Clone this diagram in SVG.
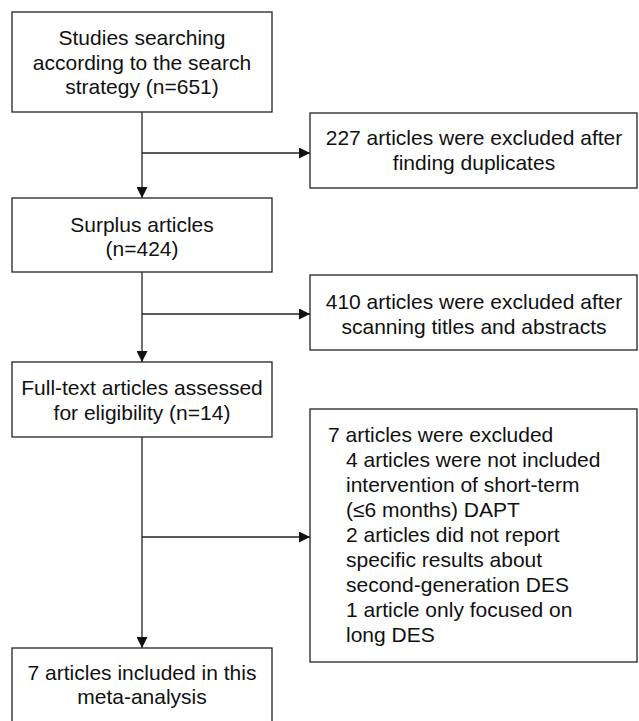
<svg xmlns="http://www.w3.org/2000/svg" width="639" height="721" viewBox="0 0 639 721">
<style>
.box{fill:#fff;stroke:#222;stroke-width:1.3}
.t{font-family:"Liberation Sans",Arial,sans-serif;font-size:21px;fill:#111}
.c{text-anchor:middle}
.ln{stroke:#222;stroke-width:1.3;fill:none}
</style>
<defs>
<marker id="ah" markerWidth="11" markerHeight="11" refX="11" refY="5.5" orient="auto" markerUnits="userSpaceOnUse">
<path d="M0,0 L11,5.5 L0,11 Z" fill="#111"/>
</marker>
</defs>
<rect width="639" height="721" fill="#fff"/>
<g id="connectors">
<line class="ln" x1="142" y1="112" x2="142" y2="198" marker-end="url(#ah)"/>
<line class="ln" x1="142" y1="153" x2="310" y2="153" marker-end="url(#ah)"/>
<line class="ln" x1="142" y1="272" x2="142" y2="362" marker-end="url(#ah)"/>
<line class="ln" x1="142" y1="314" x2="310" y2="314" marker-end="url(#ah)"/>
<line class="ln" x1="142" y1="437" x2="142" y2="648" marker-end="url(#ah)"/>
<line class="ln" x1="142" y1="537" x2="310" y2="537" marker-end="url(#ah)"/>
</g>
<g id="n1">
<rect class="box" x="12" y="12" width="260" height="100"/>
<text class="t c" x="142" y="45">Studies searching</text>
<text class="t c" x="142" y="70">according to the search</text>
<text class="t c" x="142" y="94">strategy (n=651)</text>
</g>
<g id="n2">
<rect class="box" x="310" y="113" width="327" height="75"/>
<text class="t c" x="474" y="145">227 articles were excluded after</text>
<text class="t c" x="474" y="170">finding duplicates</text>
</g>
<g id="n3">
<rect class="box" x="12" y="198" width="260" height="74"/>
<text class="t c" x="142" y="232">Surplus articles</text>
<text class="t c" x="142" y="256">(n=424)</text>
</g>
<g id="n4">
<rect class="box" x="310" y="275" width="327" height="75"/>
<text class="t c" x="474" y="309">410 articles were excluded after</text>
<text class="t c" x="474" y="334">scanning titles and abstracts</text>
</g>
<g id="n5">
<rect class="box" x="12" y="362" width="260" height="75"/>
<text class="t c" x="142" y="395">Full-text articles assessed</text>
<text class="t c" x="142" y="420">for eligibility (n=14)</text>
</g>
<g id="n6">
<rect class="box" x="310" y="409" width="327" height="253"/>
<text class="t" x="328" y="442">7 articles were excluded</text>
<text class="t" x="346" y="467">4 articles were not included</text>
<text class="t" x="346" y="492">intervention of short-term</text>
<text class="t" x="346" y="517">(≤6 months) DAPT</text>
<text class="t" x="346" y="542">2 articles did not report</text>
<text class="t" x="346" y="567">specific results about</text>
<text class="t" x="346" y="592">second-generation DES</text>
<text class="t" x="346" y="617">1 article only focused on</text>
<text class="t" x="346" y="642">long DES</text>
</g>
<g id="n7">
<rect class="box" x="12" y="648" width="260" height="80"/>
<text class="t c" x="142" y="680">7 articles included in this</text>
<text class="t c" x="142" y="704">meta-analysis</text>
</g>
</svg>
